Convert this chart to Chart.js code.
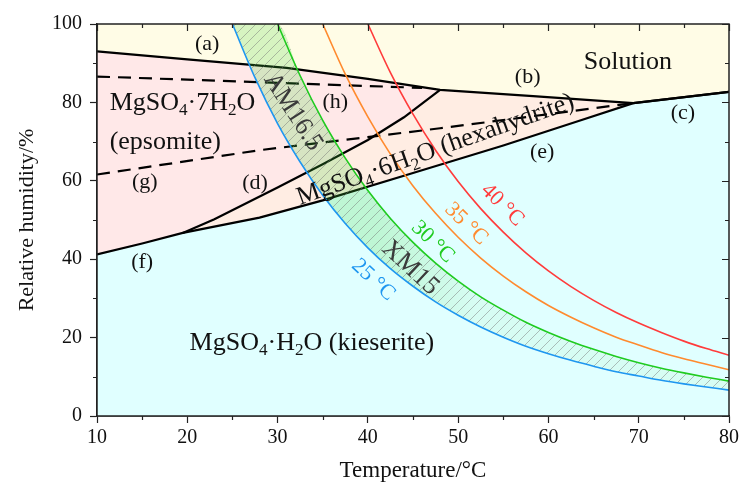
<!DOCTYPE html>
<html>
<head>
<meta charset="utf-8">
<script src="https://cdn.jsdelivr.net/npm/chart.js@4.4.1/dist/chart.umd.min.js"></script>
<style>
html, body { margin: 0; padding: 0; background: #fff; }
#wrap { width: 742px; height: 491px; }
</style>
</head>
<body>
<div id="wrap"><canvas id="c"></canvas></div>
<script>
// isotherm curves (RH vs T)
var isoT = [25, 27.5, 30, 32.5, 35, 37.5, 40, 42.5, 45, 47.5, 50, 52.5, 55, 57.5, 60, 62.5, 65, 67.5, 70, 72.5, 75, 77.5, 80];
var rh25 = [100, 86.3, 74.6, 64.8, 56.3, 49.1, 42.9, 37.6, 33.1, 29.1, 25.7, 22.7, 20.1, 17.8, 15.9, 14.2, 12.7, 11.3, 10.2, 9.1, 8.2, 7.4, 6.6];
var rh30 = [100, 86.8, 75.4, 65.8, 57.5, 50.4, 44.3, 39.0, 34.4, 30.4, 27.0, 23.9, 21.3, 19.0, 17.0, 15.2, 13.6, 12.2, 11.0, 9.9, 8.9];
var rh35 = [100, 87.2, 76.3, 66.8, 58.7, 51.7, 45.6, 40.3, 35.7, 31.7, 28.2, 25.2, 22.5, 20.1, 18.1, 16.2, 14.6, 13.2, 11.8];
var rh40 = [100, 87.6, 77.0, 67.8, 59.8, 52.9, 46.9, 41.6, 37.0, 33.0, 29.5, 26.4, 23.7, 21.3, 19.1, 17.2, 15.5];

// phase boundaries (a)..(h)
var aT = [10, 20, 31, 40, 48],              aRH = [93, 91, 88.8, 86, 83.2];
var bT = [48, 58.3, 69.4],                  bRH = [83.2, 81.6, 79.8];
var cT = [69.4, 80],                        cRH = [79.8, 82.7];
var dT = [19.5, 23, 30, 35, 40, 44, 48],    dRH = [46.7, 50.2, 58.3, 64.2, 70.4, 76.2, 83.2];
var eT = [19.5, 28, 35, 45, 55, 63, 69.4],  eRH = [46.7, 50.6, 55, 62, 69, 75, 79.8];
var fT = [10, 15, 19.5],                    fRH = [41.2, 44, 46.7];
var gT = [10, 28, 48, 69],                  gRH = [61.6, 67.8, 73.4, 79.7];
var hT = [10, 46],                          hRH = [86.6, 83.7];

var xTicks = [10, 20, 30, 40, 50, 60, 70, 80];
var yTicks = [0, 20, 40, 60, 80, 100];

var serif = "'Liberation Serif', 'DejaVu Serif', serif";

function pts(xs, ys) {
  var o = [];
  for (var i = 0; i < xs.length; i++) o.push({x: xs[i], y: ys[i]});
  return o;
}

var topEdge = pts(aT.concat(bT.slice(1), cT.slice(1)), aRH.concat(bRH.slice(1), cRH.slice(1)));
var hexEdge = pts(dT.concat(bT.slice(1)), dRH.concat(bRH.slice(1)));
var kieEdge = pts(fT.concat(eT.slice(1), cT.slice(1)), fRH.concat(eRH.slice(1), cRH.slice(1)));
var iso25 = pts(isoT, rh25);
var iso30 = pts(isoT.slice(2), rh30);
var iso35 = pts(isoT.slice(4), rh35);
var iso40 = pts(isoT.slice(6), rh40);
var bandTop = [{x: 25, y: 100}].concat(iso30);

// hatch pattern for the band
var pc = document.createElement('canvas');
pc.width = 10; pc.height = 10;
var pctx = pc.getContext('2d');
pctx.strokeStyle = 'rgba(110,110,110,0.6)';
pctx.lineWidth = 0.75;
pctx.beginPath();
pctx.moveTo(0, 10); pctx.lineTo(10, 0);
pctx.moveTo(-1, 1); pctx.lineTo(1, -1);
pctx.moveTo(9, 11); pctx.lineTo(11, 9);
pctx.stroke();
var hatch = pctx.createPattern(pc, 'repeat');

function bandColor(c) {
  var ch = c.chart;
  if (!ch.chartArea) return 'rgba(60,210,60,0.2)';
  var sx = ch.scales.x;
  var g = ch.ctx.createLinearGradient(sx.getPixelForValue(41), 0, sx.getPixelForValue(52), 0);
  g.addColorStop(0, 'rgba(70,215,60,0.22)');
  g.addColorStop(1, 'rgba(70,215,60,0.06)');
  return g;
}

function line(data, color, width, order, extra) {
  var ds = {data: data, borderColor: color, borderWidth: width, pointRadius: 0, fill: false, order: order};
  for (var k in extra) ds[k] = extra[k];
  return ds;
}

var datasets = [
  line(iso25, '#1E96F0', 1.6, 1, {cubicInterpolationMode: 'monotone'}),
  line(iso30, '#1FCB1F', 1.6, 1, {cubicInterpolationMode: 'monotone'}),
  line(iso35, '#FF8A2E', 1.6, 1, {cubicInterpolationMode: 'monotone'}),
  line(iso40, '#FF3B3B', 1.6, 1, {cubicInterpolationMode: 'monotone'}),
  line(bandTop, 'rgba(0,0,0,0)', 0, 5, {cubicInterpolationMode: 'monotone', fill: 0, backgroundColor: bandColor}),
  line(bandTop, 'rgba(0,0,0,0)', 0, 4, {cubicInterpolationMode: 'monotone', fill: 0, backgroundColor: hatch}),
  line(topEdge, '#000', 2.2, 7),
  line(kieEdge, '#000', 2.2, 7),
  line(pts(dT, dRH), '#000', 2.2, 7),
  line(pts(gT, gRH), '#000', 2.2, 6, {borderDash: [13, 8]}),
  line(pts(hT, hRH), '#000', 2.2, 6, {borderDash: [13, 8]}),
  line(topEdge, 'rgba(0,0,0,0)', 0, 12, {fill: 'start', backgroundColor: '#FFE8E8'}),
  line(hexEdge, 'rgba(0,0,0,0)', 0, 11, {fill: 'start', backgroundColor: '#FFEDE3'}),
  line(kieEdge, 'rgba(0,0,0,0)', 0, 10, {fill: 'start', backgroundColor: '#E0FFFF'})
];

// text notes placed in data units
var notes = [
  {p: [['(a)']], x: 22.2, y: 94.9, s: 22},
  {p: [['Solution']], x: 68.8, y: 90.3, s: 26},
  {p: [['(b)']], x: 57.7, y: 86.5, s: 22},
  {p: [['(c)']], x: 74.9, y: 77.3, s: 22},
  {p: [['MgSO'], ['4', 1], ['·7H'], ['2', 1], ['O']], x: 11.4, y: 79.8, s: 26, al: 'left'},
  {p: [['(epsomite)']], x: 11.4, y: 69.9, s: 26, al: 'left'},
  {p: [['(h)']], x: 36.4, y: 80.1, s: 22},
  {p: [['(g)']], x: 15.3, y: 59.7, s: 22},
  {p: [['(d)']], x: 27.5, y: 59.4, s: 22},
  {p: [['(e)']], x: 59.3, y: 67.3, s: 22},
  {p: [['(f)']], x: 15.0, y: 39.3, s: 22},
  {p: [['MgSO'], ['4', 1], ['·6H'], ['2', 1], ['O (hexahydrite)']], x: 47.5, y: 67.9, s: 26, r: -19.5},
  {p: [['MgSO'], ['4', 1], ['·H'], ['2', 1], ['O (kieserite)']], x: 33.8, y: 18.6, s: 26},
  {p: [['AM16.5']], x: 31.7, y: 77.6, s: 26, r: 57, c: '#3a3a3a'},
  {p: [['XM15']], x: 44.7, y: 37.8, s: 26, r: 43, c: '#3a3a3a'},
  {p: [['25 °C']], x: 40.6, y: 34.7, s: 22, r: 43, c: '#1E96F0'},
  {p: [['30 °C']], x: 47.2, y: 44.4, s: 22, r: 44, c: '#1FCB1F'},
  {p: [['35 °C']], x: 50.9, y: 49.0, s: 22, r: 44, c: '#FF8A2E'},
  {p: [['40 °C']], x: 54.9, y: 53.8, s: 22, r: 45, c: '#FF3B3B'}
];

function richText(ctx, parts, size) {
  var w = 0, i;
  for (i = 0; i < parts.length; i++) {
    ctx.font = (parts[i][1] ? size * 0.66 : size) + 'px ' + serif;
    w += ctx.measureText(parts[i][0]).width;
  }
  return w;
}

var notesPlugin = {
  id: 'notes',
  beforeDatasetsDraw: function(chart) {
    var a = chart.chartArea, ctx = chart.ctx;
    ctx.save();
    ctx.fillStyle = '#FFFCE6';
    ctx.fillRect(a.left, a.top, a.right - a.left, a.bottom - a.top);
    ctx.restore();
  },
  afterDatasetsDraw: function(chart) {
    var ctx = chart.ctx, a = chart.chartArea;
    var sx = chart.scales.x, sy = chart.scales.y;
    var i, j, v, px, py;
    ctx.save();
    // frame and ticks
    ctx.strokeStyle = '#222';
    ctx.lineWidth = 1.5;
    ctx.strokeRect(a.left, a.top, a.right - a.left, a.bottom - a.top);
    ctx.lineWidth = 1.2;
    ctx.beginPath();
    for (v = 10; v <= 80; v += 5) {
      px = Math.round(sx.getPixelForValue(v)) + 0.5;
      var L = v % 10 === 0 ? 7 : 4;
      ctx.moveTo(px, a.top); ctx.lineTo(px, a.top + L);
      if (v % 10 !== 0) { ctx.moveTo(px, a.bottom); ctx.lineTo(px, a.bottom + 4); }
    }
    for (v = 0; v <= 100; v += 10) {
      py = Math.round(sy.getPixelForValue(v)) + 0.5;
      var L2 = v % 20 === 0 ? 7 : 4;
      ctx.moveTo(a.right, py); ctx.lineTo(a.right - L2, py);
      if (v % 20 !== 0) { ctx.moveTo(a.left, py); ctx.lineTo(a.left - 4, py); }
    }
    ctx.stroke();
    ctx.restore();

    // text notes
    for (i = 0; i < notes.length; i++) {
      var n = notes[i];
      var w = richText(ctx, n.p, n.s);
      ctx.save();
      ctx.translate(sx.getPixelForValue(n.x), sy.getPixelForValue(n.y));
      if (n.r) ctx.rotate(n.r * Math.PI / 180);
      ctx.fillStyle = n.c || '#111';
      ctx.textBaseline = 'middle';
      ctx.textAlign = 'left';
      var cx = n.al === 'left' ? 0 : -w / 2;
      for (j = 0; j < n.p.length; j++) {
        var sub = n.p[j][1];
        ctx.font = (sub ? n.s * 0.66 : n.s) + 'px ' + serif;
        ctx.fillText(n.p[j][0], cx, sub ? n.s * 0.3 : 0);
        cx += ctx.measureText(n.p[j][0]).width;
      }
      ctx.restore();
    }
  }
};

new Chart(document.getElementById('c'), {
  type: 'line',
  data: {datasets: datasets},
  options: {
    responsive: true,
    maintainAspectRatio: false,
    animation: false,
    layout: {padding: {top: 24, right: 13, left: 0, bottom: 0}},
    plugins: {legend: {display: false}, tooltip: {enabled: false}},
    scales: {
      x: {
        type: 'linear', min: 10, max: 80,
        afterBuildTicks: function(s) { s.ticks = xTicks.map(function(v) { return {value: v}; }); },
        afterFit: function(s) { s.height = 75; },
        ticks: {font: {family: serif, size: 20}, color: '#111', padding: 3, maxRotation: 0},
        grid: {drawOnChartArea: false, tickLength: 7, color: '#222', tickWidth: 1.2},
        border: {color: '#222', width: 1.5},
        title: {display: true, text: 'Temperature/°C', font: {family: serif, size: 23}, color: '#111', padding: {top: 0, bottom: 6}}
      },
      y: {
        type: 'linear', min: 0, max: 100,
        afterBuildTicks: function(s) { s.ticks = yTicks.map(function(v) { return {value: v}; }); },
        afterFit: function(s) { s.width = 97; },
        ticks: {font: {family: serif, size: 20}, color: '#111', padding: 8},
        grid: {drawOnChartArea: false, tickLength: 7, color: '#222', tickWidth: 1.2},
        border: {color: '#222', width: 1.5},
        title: {display: true, text: 'Relative humidity/%', font: {family: serif, size: 22}, color: '#111', padding: {top: 14, bottom: 0}}
      }
    }
  },
  plugins: [notesPlugin]
});
</script>
</body>
</html>
